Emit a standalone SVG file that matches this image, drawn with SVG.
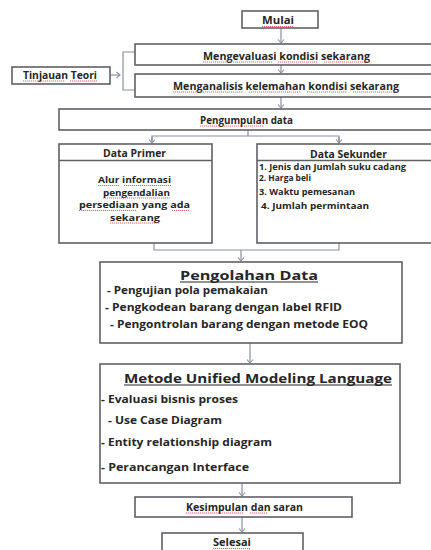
<svg xmlns="http://www.w3.org/2000/svg" width="431" height="550" viewBox="0 0 431 550">
<defs>
<style>
.box{fill:#fff;stroke:#5f5f66;stroke-width:1.6}
.ln{fill:none;stroke:#8c90a0;stroke-width:1.2}
.t{font-family:"Open Sans","Liberation Sans",sans-serif;font-weight:bold;fill:#262626;font-size:10px}
.c{text-anchor:middle}
.s{font-size:8.5px}
.m{font-size:9px}
.h{font-size:13px}
.h2{font-size:12px}
.sq{fill:none;stroke:#d9534f;stroke-width:0.9;stroke-dasharray:1.2 0.8}
.ul{fill:none;stroke:#262626;stroke-width:1.1}
</style>
<marker id="ah" markerWidth="8" markerHeight="8" refX="4" refY="4" orient="auto" markerUnits="userSpaceOnUse">
<path d="M0.5,1 L4,4 L0.5,7" fill="none" stroke="#8c90a0" stroke-width="1.1"/>
</marker>
</defs>
<rect width="431" height="550" fill="#fff"/>

<g id="connectors">
<line class="ln" x1="281" y1="28" x2="281" y2="43" marker-end="url(#ah)"/>
<line class="ln" x1="281" y1="65" x2="281" y2="73" marker-end="url(#ah)"/>
<line class="ln" x1="110" y1="75" x2="120" y2="75" marker-end="url(#ah)"/>
<path class="ln" d="M135,52 H123 V90 H135"/>
<line class="ln" x1="281" y1="97" x2="281" y2="108" marker-end="url(#ah)"/>
<path class="ln" d="M248,130 V136"/>
<path class="ln" d="M152,143 V136 H339 V143" />
<line class="ln" x1="152" y1="137" x2="152" y2="143" marker-end="url(#ah)"/>
<line class="ln" x1="339" y1="137" x2="339" y2="143" marker-end="url(#ah)"/>
<path class="ln" d="M154,243 V250 H339 V243"/>
<line class="ln" x1="241" y1="250" x2="241" y2="261" marker-end="url(#ah)"/>
<line class="ln" x1="250" y1="343" x2="250" y2="363" marker-end="url(#ah)"/>
<line class="ln" x1="242" y1="483" x2="242" y2="496" marker-end="url(#ah)"/>
<line class="ln" x1="242" y1="517" x2="242" y2="532" marker-end="url(#ah)"/>
</g>

<g id="mulai">
<rect class="box" x="242" y="11" width="76" height="17"/>
<text class="t c" x="278" y="24" textLength="32" lengthAdjust="spacingAndGlyphs">Mulai</text>
<path class="sq" d="M262,26.5 H294"/>
</g>

<g id="mengevaluasi">
<rect class="box" x="135" y="44" width="298" height="21"/>
<text class="t c" x="286.5" y="59.5" textLength="167" lengthAdjust="spacingAndGlyphs">Mengevaluasi kondisi sekarang</text>
<path class="sq" d="M203,62 H272 M278,62 H318 M324,62 H370"/>
</g>

<g id="menganalisis">
<rect class="box" x="135" y="74" width="298" height="23"/>
<text class="t c" x="286" y="89.5" textLength="226" lengthAdjust="spacingAndGlyphs">Menganalisis kelemahan kondisi sekarang</text>
<path class="sq" d="M173,92 H243 M249,92 H301 M307,92 H347 M353,92 H399"/>
</g>

<g id="tinjauan">
<rect class="box" x="12" y="67" width="98" height="17"/>
<text class="t c" x="60" y="78.5" textLength="74" lengthAdjust="spacingAndGlyphs">Tinjauan Teori</text>
<path class="sq" d="M23,81 H65 M70,81 H97"/>
</g>

<g id="pengumpulan">
<rect class="box" x="59" y="109" width="374" height="21"/>
<text class="t c" x="246.5" y="123.5" textLength="93" lengthAdjust="spacingAndGlyphs">Pengumpulan data</text>
<path class="sq" d="M200,126 H264"/>
</g>

<g id="data-primer">
<rect class="box" x="59" y="144" width="153" height="99"/>
<line class="box" x1="59" y1="160.5" x2="212" y2="160.5"/>
<text class="t c" x="134.5" y="156.5" textLength="63" lengthAdjust="spacingAndGlyphs">Data Primer</text>
<text class="t m c" x="134.5" y="183" textLength="73" lengthAdjust="spacingAndGlyphs">Alur informasi</text>
<text class="t m c" x="136.5" y="195.5" textLength="67" lengthAdjust="spacingAndGlyphs">pengendalian</text>
<text class="t m c" x="134.5" y="208" textLength="111" lengthAdjust="spacingAndGlyphs">persediaan yang ada</text>
<text class="t m c" x="135" y="220.5" textLength="50" lengthAdjust="spacingAndGlyphs">sekarang</text>
<path class="sq" d="M98,185.5 H119 M124,185.5 H171 M103,198 H170 M79,210.5 H137 M172,210.5 H190 M110,223 H160"/>
</g>

<g id="data-sekunder">
<rect class="box" x="257" y="144" width="176" height="99"/>
<line class="box" x1="257" y1="160.5" x2="433" y2="160.5"/>
<text class="t c" x="348.5" y="157.5" textLength="77" lengthAdjust="spacingAndGlyphs">Data Sekunder</text>
<text class="t s" x="259" y="170" textLength="147" lengthAdjust="spacingAndGlyphs">1. Jenis dan Jumlah suku cadang</text>
<text class="t s" x="259" y="180.5" textLength="52" lengthAdjust="spacingAndGlyphs">2. Harga beli</text>
<text class="t s" x="259" y="195" textLength="96" lengthAdjust="spacingAndGlyphs">3. Waktu pemesanan</text>
<text class="t s" x="261" y="209" textLength="108" lengthAdjust="spacingAndGlyphs">4. Jumlah permintaan</text>
</g>

<g id="pengolahan">
<rect class="box" x="100" y="262" width="302" height="81"/>
<text class="t h c" x="249" y="279.5" textLength="138" lengthAdjust="spacingAndGlyphs">Pengolahan Data</text>
<path class="ul" d="M180,282 H318"/>
<text class="t" x="107" y="293.5" textLength="161" lengthAdjust="spacingAndGlyphs">- Pengujian pola pemakaian</text>
<text class="t" x="105" y="310.5" textLength="237" lengthAdjust="spacingAndGlyphs">- Pengkodean barang dengan label RFID</text>
<text class="t" x="110" y="327.5" textLength="258" lengthAdjust="spacingAndGlyphs">- Pengontrolan barang dengan metode EOQ</text>
</g>

<g id="uml">
<rect class="box" x="100" y="364" width="300" height="119"/>
<text class="t h2 c" x="258" y="382.5" textLength="268" lengthAdjust="spacingAndGlyphs">Metode Unified Modeling Language</text>
<path class="ul" d="M124,385 H392"/>
<text class="t" x="101" y="402.5" textLength="137" lengthAdjust="spacingAndGlyphs">- Evaluasi bisnis proses</text>
<text class="t" x="108" y="423.5" textLength="114" lengthAdjust="spacingAndGlyphs">- Use Case Diagram</text>
<text class="t" x="101" y="445.5" textLength="171" lengthAdjust="spacingAndGlyphs">- Entity relationship diagram</text>
<text class="t" x="101" y="470.5" textLength="148" lengthAdjust="spacingAndGlyphs">- Perancangan Interface</text>
</g>

<g id="kesimpulan">
<rect class="box" x="135" y="497" width="217" height="20"/>
<text class="t c" x="244.5" y="510.5" textLength="117" lengthAdjust="spacingAndGlyphs">Kesimpulan dan saran</text>
<path class="sq" d="M186,513 H244 M250,513 H268"/>
</g>

<g id="selesai">
<rect class="box" x="162" y="533" width="141" height="20"/>
<text class="t c" x="232" y="546" textLength="38" lengthAdjust="spacingAndGlyphs">Selesai</text>
<path class="sq" d="M213,548.5 H251"/>
</g>
</svg>
